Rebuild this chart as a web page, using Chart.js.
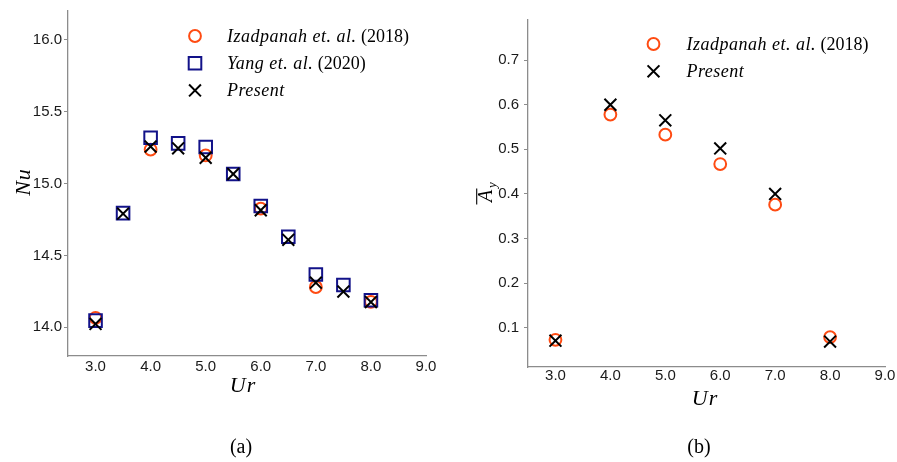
<!DOCTYPE html>
<html>
<head>
<meta charset="utf-8">
<script src="https://cdn.jsdelivr.net/npm/chart.js@4.4.1/dist/chart.umd.min.js"></script>
<style>
  html, body { margin: 0; padding: 0; background: #ffffff; }
  #wrap { position: relative; width: 897px; height: 462px; overflow: hidden; background: #ffffff; }
  canvas { position: absolute; top: 0; }
  #panelA { left: 0; }
  #panelB { left: 450px; }
</style>
</head>
<body>
<div id="wrap">
  <canvas id="panelA" width="450" height="462"></canvas>
  <canvas id="panelB" width="447" height="462"></canvas>
</div>
<script>
// ---- Panel (a): Nusselt number against reduced velocity ----
const urIzadpanahNu = [3.0, 4.0, 5.0, 6.0, 7.0, 8.0];
const nuIzadpanah   = [14.065, 15.236, 15.195, 14.825, 14.280, 14.177];

const urYang = [3.0, 3.5, 4.0, 4.5, 5.0, 5.5, 6.0, 6.5, 7.0, 7.5, 8.0];
const nuYang = [14.046, 14.794, 15.318, 15.279, 15.254, 15.066, 14.844, 14.630, 14.367, 14.294, 14.188];

const urPresentNu = [3.0, 3.5, 4.0, 4.5, 5.0, 5.5, 6.0, 6.5, 7.0, 7.5, 8.0];
const nuPresent   = [14.023, 14.790, 15.257, 15.245, 15.179, 15.066, 14.814, 14.608, 14.310, 14.248, 14.175];

// ---- Panel (b): mean transverse amplitude against reduced velocity ----
const urAmp        = [3.0, 4.0, 5.0, 6.0, 7.0, 8.0];
const ayIzadpanah  = [0.073, 0.578, 0.533, 0.467, 0.376, 0.079];
const ayPresent    = [0.071, 0.600, 0.565, 0.502, 0.400, 0.069];

// ---- Tick labels ----
const urTicks = [3.0, 4.0, 5.0, 6.0, 7.0, 8.0, 9.0];
const nuTicks = [14.0, 14.5, 15.0, 15.5, 16.0];
const ayTicks = [0.1, 0.2, 0.3, 0.4, 0.5, 0.6, 0.7];

// ---- Styling ----
const ORANGE = '#ff4b12';
const NAVY   = '#121289';
const INK    = '#000000';
const AXIS   = '#8c8c8c';
const TICK_FONT = { family: '"Liberation Sans", Arial, sans-serif', size: 15 };
const SERIF = '"Liberation Serif", "Times New Roman", serif';

function points(xs, ys) {
  return xs.map((x, i) => ({ x: x, y: ys[i] }));
}

function fixedTicks(values) {
  return function (scale) {
    scale.ticks = values.map(v => ({ value: v }));
  };
}

const circleStyle = { pointStyle: 'circle',   radius: 5.9, borderWidth: 2, borderColor: ORANGE, backgroundColor: 'rgba(0,0,0,0)' };
const squareStyle = { pointStyle: 'rect',     radius: 8.9, borderWidth: 2, borderColor: NAVY,   backgroundColor: 'rgba(0,0,0,0)' };
const crossStyle  = { pointStyle: 'crossRot', radius: 8.4, borderWidth: 2, borderColor: INK,    backgroundColor: 'rgba(0,0,0,0)' };

// Draws a run of text pieces with mixed italic / upright faces.
function drawRuns(ctx, runs, x, y, size, spacing) {
  let cx = x;
  runs.forEach(r => {
    ctx.font = (r.italic ? 'italic ' : '') + size + 'px ' + SERIF;
    ctx.letterSpacing = (r.italic ? spacing : 0) + 'px';
    ctx.fillText(r.t, cx, y);
    cx += ctx.measureText(r.t).width;
  });
  ctx.letterSpacing = '0px';
}

function drawMarker(ctx, ds, x, y) {
  ctx.save();
  ctx.strokeStyle = ds.borderColor;
  ctx.fillStyle = 'rgba(0,0,0,0)';
  ctx.lineWidth = ds.borderWidth;
  const opts = { pointStyle: ds.pointStyle, radius: ds.radius, borderWidth: ds.borderWidth, rotation: 0 };
  if (Chart.helpers && Chart.helpers.drawPoint) {
    Chart.helpers.drawPoint(ctx, opts, x, y);
  } else {
    ctx.beginPath();
    const r = ds.radius;
    if (ds.pointStyle === 'circle') {
      ctx.arc(x, y, r, 0, Math.PI * 2);
    } else if (ds.pointStyle === 'rect') {
      const h = r * Math.SQRT1_2;
      ctx.rect(x - h, y - h, 2 * h, 2 * h);
    } else {
      const h = r * Math.SQRT1_2;
      ctx.moveTo(x - h, y - h); ctx.lineTo(x + h, y + h);
      ctx.moveTo(x + h, y - h); ctx.lineTo(x - h, y + h);
    }
    ctx.stroke();
  }
  ctx.restore();
}

// Legend rows, axis titles and panel captions.
const paperText = {
  id: 'paperText',
  afterDraw(chart, args, opts) {
    const ctx = chart.ctx;
    const area = chart.chartArea;
    ctx.save();
    ctx.fillStyle = INK;
    ctx.textBaseline = 'middle';
    ctx.textAlign = 'left';

    // legend
    const lg = opts.legend;
    lg.rows.forEach((row, i) => {
      const ds = chart.data.datasets[row.dataset];
      const y = area.top + lg.dy + i * lg.gap;
      drawMarker(ctx, ds, area.left + lg.dx, y);
      ctx.fillStyle = INK;
      drawRuns(ctx, row.runs, area.left + lg.dx + lg.textGap, y + 1, lg.size, lg.spacing);
    });

    // x-axis title
    ctx.textAlign = 'center';
    ctx.font = 'italic 22px ' + SERIF;
    ctx.letterSpacing = '1px';
    ctx.fillText(opts.xTitle.text, opts.xTitle.x, opts.xTitle.y);

    // y-axis title
    ctx.save();
    ctx.translate(opts.yTitle.x, opts.yTitle.y);
    ctx.rotate(-Math.PI / 2);
    if (opts.yTitle.kind === 'bar') {
      // A with an overline and a subscript y
      ctx.font = 'italic 20px ' + SERIF;
      ctx.letterSpacing = '0px';
      ctx.textAlign = 'center';
      ctx.fillText('A', 0, 0);
      ctx.beginPath();
      ctx.lineWidth = 1.1;
      ctx.strokeStyle = INK;
      ctx.moveTo(-8.5, -10.3);
      ctx.lineTo(7.5, -10.3);
      ctx.stroke();
      ctx.font = 'italic 13px ' + SERIF;
      ctx.fillText('y', 11, 5.5);
    } else {
      ctx.fillText(opts.yTitle.text, 0, 0);
    }
    ctx.restore();

    // caption
    ctx.letterSpacing = '0px';
    ctx.font = '20px ' + SERIF;
    ctx.textAlign = 'center';
    ctx.fillText(opts.caption.text, opts.caption.x, opts.caption.y);
    ctx.restore();
  }
};

function axisX(height, pad) {
  return {
    type: 'linear', min: 2.5, max: 9.0,
    afterBuildTicks: fixedTicks(urTicks),
    afterFit: s => { s.height = height; },
    grid: { display: true, drawOnChartArea: false, drawTicks: false },
    border: { display: true, color: AXIS, width: 1.3 },
    ticks: { color: '#1a1a1a', font: TICK_FONT, padding: pad, maxRotation: 0, autoSkip: false,
             callback: v => Number(v).toFixed(1) }
  };
}

function axisY(min, max, ticks, width, pad) {
  return {
    type: 'linear', min: min, max: max,
    afterBuildTicks: fixedTicks(ticks),
    afterFit: s => { s.width = width; },
    grid: { display: true, drawOnChartArea: false, drawTicks: true, tickLength: 4, tickColor: AXIS, tickWidth: 1 },
    border: { display: true, color: AXIS, width: 1.3 },
    ticks: { color: '#1a1a1a', font: TICK_FONT, padding: pad, autoSkip: false,
             callback: v => Number(v).toFixed(1) }
  };
}

const common = {
  responsive: false,
  animation: false,
  events: [],
  clip: false
};

// Panel (a)
new Chart(document.getElementById('panelA'), {
  type: 'scatter',
  data: {
    datasets: [
      Object.assign({ label: 'Izadpanah et. al. (2018)', data: points(urIzadpanahNu, nuIzadpanah), order: 2 }, circleStyle),
      Object.assign({ label: 'Yang et. al. (2020)', data: points(urYang, nuYang), order: 1 }, squareStyle),
      Object.assign({ label: 'Present', data: points(urPresentNu, nuPresent), order: 0 }, crossStyle)
    ]
  },
  options: Object.assign({}, common, {
    layout: { padding: { left: 0, right: 24, top: 7, bottom: 0 } },
    scales: { x: axisX(106, 2), y: axisY(13.8, 16.2, nuTicks, 68, 2) },
    plugins: {
      legend: { display: false },
      tooltip: { enabled: false },
      paperText: {
        legend: {
          dx: 127, dy: 25, gap: 27.2, textGap: 32, size: 18, spacing: 0.5,
          rows: [
            { dataset: 0, runs: [{ t: 'Izadpanah et. al.', italic: true }, { t: ' (2018)', italic: false }] },
            { dataset: 1, runs: [{ t: 'Yang et. al.', italic: true }, { t: ' (2020)', italic: false }] },
            { dataset: 2, runs: [{ t: 'Present', italic: true }] }
          ]
        },
        xTitle: { text: 'Ur', x: 243, y: 386 },
        yTitle: { text: 'Nu', x: 24, y: 182 },
        caption: { text: '(a)', x: 241, y: 448 }
      }
    }
  }),
  plugins: [paperText]
});

// Panel (b)
new Chart(document.getElementById('panelB'), {
  type: 'scatter',
  data: {
    datasets: [
      Object.assign({ label: 'Izadpanah et. al. (2018)', data: points(urAmp, ayIzadpanah), order: 1 }, circleStyle),
      Object.assign({ label: 'Present', data: points(urAmp, ayPresent), order: 0 }, crossStyle)
    ]
  },
  options: Object.assign({}, common, {
    layout: { padding: { left: 0, right: 12, top: 20, bottom: 0 } },
    scales: { x: axisX(95, 0), y: axisY(0.012, 0.79, ayTicks, 78, 5) },
    plugins: {
      legend: { display: false },
      tooltip: { enabled: false },
      paperText: {
        legend: {
          dx: 125.5, dy: 24, gap: 27.3, textGap: 33, size: 18, spacing: 0.5,
          rows: [
            { dataset: 0, runs: [{ t: 'Izadpanah et. al.', italic: true }, { t: ' (2018)', italic: false }] },
            { dataset: 1, runs: [{ t: 'Present', italic: true }] }
          ]
        },
        xTitle: { text: 'Ur', x: 255, y: 399 },
        yTitle: { kind: 'bar', x: 37, y: 196 },
        caption: { text: '(b)', x: 249, y: 448 }
      }
    }
  }),
  plugins: [paperText]
});
</script>
</body>
</html>
